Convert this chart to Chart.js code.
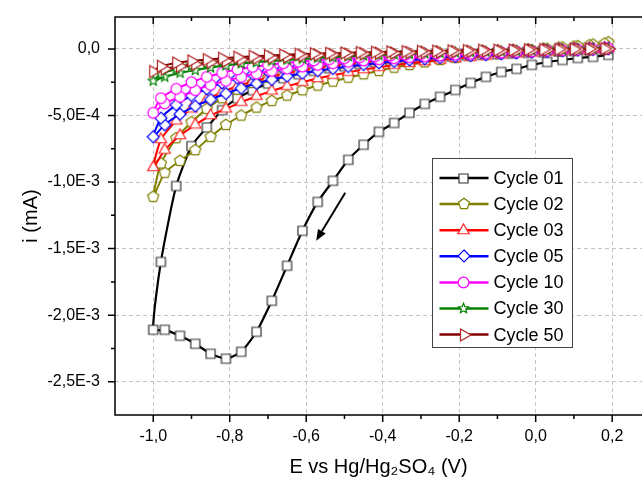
<!DOCTYPE html>
<html>
<head>
<meta charset="utf-8">
<script src="https://cdn.jsdelivr.net/npm/chart.js@4.4.1/dist/chart.umd.min.js"></script>
<style>
html, body { margin: 0; padding: 0; background: #fff; }
#wrap { width: 642px; height: 482px; }
</style>
</head>
<body>
<div id="wrap"><canvas id="cv" width="642" height="482"></canvas></div>
<script>
// Potenciales (V): barrido de ida (0,19 -> -1,0) y de vuelta (-0,98 -> 0,18)
const E_FWD = [0.19, 0.15, 0.11, 0.07, 0.03, -0.01, -0.05, -0.09, -0.13, -0.17, -0.21, -0.25, -0.29, -0.33, -0.37, -0.41,
  -0.45, -0.49, -0.53, -0.57, -0.61, -0.65, -0.69, -0.73, -0.77, -0.81, -0.85, -0.89, -0.93, -0.97, -1.0];
const E_REV = [-0.98, -0.94, -0.90, -0.86, -0.82, -0.78, -0.74, -0.70, -0.66, -0.62, -0.58, -0.54, -0.50, -0.46, -0.42,
  -0.38, -0.34, -0.30, -0.26, -0.22, -0.18, -0.14, -0.10, -0.06, -0.02, 0.02, 0.06, 0.10, 0.14, 0.18];

// Corriente en unidades de 1E-3 mA
const C01_FWD = [-0.045, -0.06, -0.068, -0.083, -0.098, -0.12, -0.15, -0.173, -0.21, -0.255, -0.308, -0.36, -0.413, -0.48, -0.556, -0.623,
  -0.72, -0.833, -0.991, -1.149, -1.366, -1.629, -1.892, -2.125, -2.275, -2.327, -2.29, -2.215, -2.155, -2.11, -2.11];
const C01_REV = [-1.60, -1.03, -0.73, -0.59, -0.46, -0.37, -0.31, -0.26, -0.22, -0.19, -0.165, -0.145, -0.13, -0.115, -0.10,
  -0.09, -0.08, -0.07, -0.06, -0.055, -0.05, -0.045, -0.04, -0.035, -0.03, -0.025, -0.02, -0.015, -0.01, -0.005];

const C02_FWD = [0.05, 0.033, 0.021, 0.011, 0.001, -0.009, -0.019, -0.029, -0.04, -0.052, -0.066, -0.082, -0.10, -0.12, -0.14, -0.165,
  -0.19, -0.215, -0.245, -0.275, -0.31, -0.35, -0.39, -0.44, -0.50, -0.57, -0.66, -0.76, -0.84, -0.93, -1.11];
const C02_REV = [-0.86, -0.67, -0.55, -0.45, -0.37, -0.305, -0.255, -0.215, -0.185, -0.16, -0.14, -0.123, -0.108, -0.095, -0.083,
  -0.072, -0.062, -0.053, -0.045, -0.037, -0.03, -0.023, -0.016, -0.01, -0.004, 0.003, 0.01, 0.018, 0.027, 0.04];

const C03_FWD = [0.003, -0.004, -0.01, -0.016, -0.023, -0.03, -0.037, -0.045, -0.053, -0.062, -0.072, -0.083, -0.095, -0.108, -0.122, -0.138,
  -0.155, -0.175, -0.197, -0.222, -0.25, -0.28, -0.315, -0.355, -0.40, -0.45, -0.50, -0.57, -0.65, -0.76, -0.89];
const C03_REV = [-0.68, -0.54, -0.45, -0.38, -0.325, -0.28, -0.245, -0.215, -0.19, -0.168, -0.149, -0.132, -0.117, -0.104, -0.092,
  -0.081, -0.071, -0.062, -0.054, -0.047, -0.04, -0.034, -0.028, -0.022, -0.017, -0.012, -0.007, -0.002, 0.002, 0.006];

const C05_FWD = [0.002, -0.003, -0.008, -0.013, -0.018, -0.024, -0.03, -0.036, -0.043, -0.05, -0.057, -0.065, -0.074, -0.083, -0.094, -0.105,
  -0.118, -0.132, -0.147, -0.164, -0.183, -0.205, -0.23, -0.26, -0.295, -0.335, -0.38, -0.43, -0.49, -0.57, -0.66];
const C05_REV = [-0.52, -0.42, -0.35, -0.30, -0.255, -0.22, -0.19, -0.167, -0.147, -0.13, -0.115, -0.102, -0.091, -0.081, -0.072,
  -0.064, -0.057, -0.05, -0.044, -0.038, -0.033, -0.028, -0.023, -0.018, -0.014, -0.01, -0.006, -0.002, 0.002, 0.005];

const C10_FWD = [0.002, -0.002, -0.006, -0.01, -0.014, -0.018, -0.022, -0.027, -0.032, -0.037, -0.043, -0.049, -0.055, -0.062, -0.07, -0.078,
  -0.087, -0.097, -0.108, -0.12, -0.133, -0.148, -0.165, -0.185, -0.21, -0.24, -0.27, -0.31, -0.36, -0.41, -0.48];
const C10_REV = [-0.37, -0.30, -0.25, -0.21, -0.18, -0.155, -0.135, -0.12, -0.107, -0.096, -0.086, -0.077, -0.069, -0.062, -0.055,
  -0.049, -0.043, -0.038, -0.033, -0.029, -0.025, -0.021, -0.017, -0.013, -0.01, -0.006, -0.003, 0.0, 0.003, 0.006];

const C30_FWD = [0.0, -0.002, -0.005, -0.007, -0.01, -0.012, -0.015, -0.018, -0.021, -0.024, -0.027, -0.03, -0.034, -0.038, -0.042, -0.046,
  -0.05, -0.056, -0.062, -0.068, -0.075, -0.082, -0.09, -0.10, -0.11, -0.125, -0.14, -0.16, -0.18, -0.21, -0.24];
const C30_REV = [-0.19, -0.15, -0.125, -0.11, -0.095, -0.085, -0.075, -0.068, -0.06, -0.055, -0.05, -0.045, -0.041, -0.037, -0.033,
  -0.03, -0.027, -0.024, -0.021, -0.019, -0.016, -0.014, -0.012, -0.01, -0.008, -0.006, -0.004, -0.002, 0.0, 0.003];

const C50_FWD = [0.0, -0.002, -0.004, -0.006, -0.008, -0.01, -0.012, -0.014, -0.016, -0.018, -0.02, -0.022, -0.025, -0.027, -0.03, -0.032,
  -0.035, -0.039, -0.042, -0.045, -0.05, -0.06, -0.065, -0.07, -0.08, -0.09, -0.10, -0.115, -0.13, -0.15, -0.17];
const C50_REV = [-0.13, -0.105, -0.09, -0.08, -0.07, -0.062, -0.055, -0.05, -0.045, -0.04, -0.036, -0.033, -0.03, -0.027, -0.025,
  -0.022, -0.02, -0.018, -0.016, -0.014, -0.012, -0.01, -0.009, -0.008, -0.006, -0.005, -0.004, -0.002, 0.0, 0.002];

const CYCLE_LABELS = ['Cycle 01', 'Cycle 02', 'Cycle 03', 'Cycle 05', 'Cycle 10', 'Cycle 30', 'Cycle 50'];

// Ejes
const X_TICKS = [-1.0, -0.8, -0.6, -0.4, -0.2, 0.0, 0.2];
const X_MINOR = [-0.9, -0.7, -0.5, -0.3, -0.1, 0.1];
const Y_TICKS = [-2.5, -2.0, -1.5, -1.0, -0.5, 0.0];
const Y_TICK_LABELS = ['-2,5E-3', '-2,0E-3', '-1,5E-3', '-1,0E-3', '-5,0E-4', '0,0'];
const Y_MINOR = [-2.25, -1.75, -1.25, -0.75, -0.25];

// Flecha de sentido de barrido (coordenadas de datos)
const ARROW_FROM = [-0.498, -1.08];
const ARROW_TO = [-0.574, -1.44];

const FONT = '"Liberation Sans", Arial, Helvetica, sans-serif';

// Marcadores huecos (relleno blanco) dibujados en canvas
function marker(shape, color, r) {
    const s = Math.ceil(r * 2 + 4);
    const c = document.createElement('canvas');
    c.width = s; c.height = s;
    const g = c.getContext('2d');
    g.translate(s / 2, s / 2);
    g.beginPath();
    const poly = (n, rot, inner) => {
        const k = inner ? n * 2 : n;
        for (let i = 0; i < k; i++) {
            const a = rot + i * 2 * Math.PI / k;
            const rr = inner && i % 2 ? r * inner : r;
            const px = rr * Math.cos(a), py = rr * Math.sin(a);
            i ? g.lineTo(px, py) : g.moveTo(px, py);
        }
        g.closePath();
    };
    if (shape === 'square') g.rect(-r, -r, 2 * r, 2 * r);
    else if (shape === 'circle') g.arc(0, 0, r, 0, 2 * Math.PI);
    else if (shape === 'pentagon') poly(5, -Math.PI / 2);
    else if (shape === 'triangle') poly(3, -Math.PI / 2);
    else if (shape === 'diamond') poly(4, -Math.PI / 2);
    else if (shape === 'star') poly(5, -Math.PI / 2, 0.45);
    else if (shape === 'right') poly(3, 0);
    g.fillStyle = '#fff';
    g.fill();
    g.lineWidth = 1.2;
    g.strokeStyle = color;
    g.stroke();
    return c;
}

const seriesFwd = [C01_FWD, C02_FWD, C03_FWD, C05_FWD, C10_FWD, C30_FWD, C50_FWD];
const seriesRev = [C01_REV, C02_REV, C03_REV, C05_REV, C10_REV, C30_REV, C50_REV];
const colors = ['#000000', '#808000', '#ff0000', '#0000ff', '#ff00ff', '#008000', '#800000'];
const markerColors = ['#333333', '#808000', '#ff2020', '#0000ff', '#ff00ff', '#008000', '#b02020'];
const shapes = [['square', 4.5], ['pentagon', 5.8], ['triangle', 6.5], ['diamond', 6], ['circle', 5.3], ['star', 5.2], ['right', 7]];

const datasets = CYCLE_LABELS.map((label, i) => ({
    label: label,
    data: E_FWD.map((e, j) => ({ x: e, y: seriesFwd[i][j] }))
        .concat(E_REV.map((e, j) => ({ x: e, y: seriesRev[i][j] }))),
    borderColor: colors[i],
    borderWidth: i === 0 ? 2.2 : 2,
    pointStyle: marker(shapes[i][0], markerColors[i], shapes[i][1]),
    pointRadius: 5,
    tension: 0.2,
    order: CYCLE_LABELS.length - 1 - i
}));

// Marco, marcas de ejes (mayores y menores) y flecha
const framePlugin = {
    id: 'frame',
    afterDraw(chart) {
        const { ctx, chartArea: a, scales: { x, y } } = chart;
        ctx.save();
        ctx.strokeStyle = '#000';
        ctx.lineWidth = 1.5;
        ctx.beginPath();
        ctx.moveTo(a.right, a.top);
        ctx.lineTo(a.left, a.top);
        ctx.lineTo(a.left, a.bottom);
        ctx.lineTo(a.right, a.bottom);
        ctx.stroke();

        ctx.beginPath();
        const xt = (vals, len) => vals.forEach(v => {
            const px = x.getPixelForValue(v);
            ctx.moveTo(px, a.bottom); ctx.lineTo(px, a.bottom + len);
            ctx.moveTo(px, a.top); ctx.lineTo(px, a.top + len);
        });
        const yt = (vals, len) => vals.forEach(v => {
            const py = y.getPixelForValue(v);
            ctx.moveTo(a.left - len, py); ctx.lineTo(a.left, py);
        });
        xt(X_TICKS, 7); xt(X_MINOR, 4);
        yt(Y_TICKS, 7); yt(Y_MINOR, 4);
        ctx.stroke();

        // flecha
        const x1 = x.getPixelForValue(ARROW_FROM[0]), y1 = y.getPixelForValue(ARROW_FROM[1]);
        const x2 = x.getPixelForValue(ARROW_TO[0]), y2 = y.getPixelForValue(ARROW_TO[1]);
        const ang = Math.atan2(y2 - y1, x2 - x1);
        const hl = 11, hw = 4.5;
        const bx = x2 - hl * Math.cos(ang), by = y2 - hl * Math.sin(ang);
        ctx.lineWidth = 2;
        ctx.beginPath();
        ctx.moveTo(x1, y1); ctx.lineTo(bx, by);
        ctx.stroke();
        ctx.fillStyle = '#000';
        ctx.beginPath();
        ctx.moveTo(x2, y2);
        ctx.lineTo(bx + hw * Math.sin(ang), by - hw * Math.cos(ang));
        ctx.lineTo(bx - hw * Math.sin(ang), by + hw * Math.cos(ang));
        ctx.closePath();
        ctx.fill();
        ctx.restore();
    }
};

// Leyenda dentro del área de trazado
const legendPlugin = {
    id: 'cycleLegend',
    afterDraw(chart) {
        const ctx = chart.ctx;
        const left = 432.5, top = 158.5, w = 140, h = 189, row = 26.1;
        ctx.save();
        ctx.fillStyle = '#fff';
        ctx.fillRect(left, top, w, h);
        ctx.strokeStyle = '#444';
        ctx.lineWidth = 1;
        ctx.strokeRect(left, top, w, h);
        ctx.font = '18px ' + FONT;
        ctx.textBaseline = 'middle';
        chart.data.datasets.forEach((ds, i) => {
            const cy = top + 19.5 + i * row;
            ctx.strokeStyle = ds.borderColor;
            ctx.lineWidth = 2.5;
            ctx.beginPath();
            ctx.moveTo(left + 7, cy); ctx.lineTo(left + 56, cy);
            ctx.stroke();
            const img = ds.pointStyle;
            ctx.drawImage(img, Math.round(left + 31 - img.width / 2), Math.round(cy - img.height / 2));
            ctx.fillStyle = '#000';
            ctx.fillText(ds.label, left + 61, cy + 1);
        });
        ctx.restore();
    }
};

new Chart(document.getElementById('cv'), {
    type: 'line',
    data: { datasets: datasets },
    options: {
        responsive: false,
        devicePixelRatio: 1,
        animation: false,
        events: [],
        layout: { autoPadding: false, padding: { top: 17, right: 0, left: 0, bottom: 0 } },
        plugins: { legend: { display: false }, tooltip: { enabled: false } },
        scales: {
            x: {
                type: 'linear',
                min: -1.1,
                max: 0.278,
                bounds: 'data',
                afterBuildTicks: s => { s.ticks = X_TICKS.map(v => ({ value: v })); },
                afterFit: s => { s.height = 67; s.paddingLeft = 0; s.paddingRight = 0; },
                ticks: {
                    autoSkip: false,
                    maxRotation: 0,
                    padding: 0,
                    color: '#000',
                    font: { family: FONT, size: 16 },
                    callback: v => v.toFixed(1).replace('.', ',')
                },
                grid: { color: '#c4c4c4', lineWidth: 1, drawTicks: true, tickLength: 12, tickColor: 'rgba(0,0,0,0)' },
                border: { display: false, dash: [4, 3] },
                title: {
                    display: true,
                    text: 'E vs Hg/Hg₂SO₄ (V)',
                    color: '#000',
                    font: { family: FONT, size: 20 },
                    padding: { top: 0, bottom: 3 }
                }
            },
            y: {
                type: 'linear',
                min: -2.75,
                max: 0.24,
                bounds: 'data',
                afterBuildTicks: s => { s.ticks = Y_TICKS.map(v => ({ value: v })); },
                afterFit: s => { s.width = 115; s.paddingTop = 0; s.paddingBottom = 0; },
                ticks: {
                    padding: 15,
                    color: '#000',
                    font: { family: FONT, size: 16 },
                    callback: v => Y_TICK_LABELS[Y_TICKS.indexOf(v)]
                },
                grid: { color: '#c4c4c4', lineWidth: 1, drawTicks: false },
                border: { display: false, dash: [4, 3] },
                title: {
                    display: true,
                    text: 'i (mA)',
                    color: '#000',
                    font: { family: FONT, size: 20 },
                    padding: { top: 19, bottom: 0 }
                }
            }
        }
    },
    plugins: [framePlugin, legendPlugin]
});
</script>
</body>
</html>
